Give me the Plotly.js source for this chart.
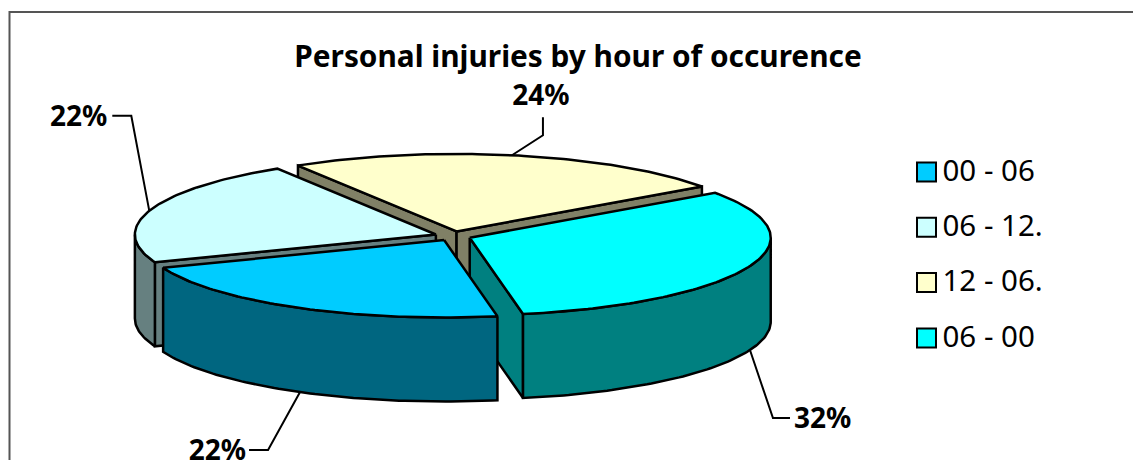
<!DOCTYPE html>
<html>
<head>
<meta charset="utf-8">
<script src="https://cdn.plot.ly/plotly-3.0.1.min.js"></script>
<style>html,body{margin:0;padding:0;background:#fff}#chart{width:1133px;height:460px}</style>
</head>
<body>
<div id="chart"></div>
<script>
const chartTitle = "Personal injuries by hour of occurence";
const categories = ["00 - 06", "06 - 12.", "12 - 06.", "06 - 00"];
const shares = [22, 22, 24, 32];
const topColors = ["#00CCFF", "#CCFFFF", "#FFFFCC", "#00FFFF"];
const sideColors = ["#006680", "#668080", "#808066", "#008080"];

// Pie geometry in the pixel-scaled axes
const G = {cx: 453, cy: 236, rx: 301, ry: 77.5, depth: 84, explode: 0.06, firstStart: -79.8};
const FONT = "Noto Sans, Tahoma, sans-serif";
const LW = 2.5;
const total = shares.reduce((a, b) => a + b, 0);

// Slices run clockwise from the first category; angles kept within one turn of the front half
let cursor = G.firstStart;
const slices = shares.map((v, i) => {
  const span = v / total * 360;
  let a0 = cursor, a1 = cursor - span;
  cursor = a1;
  if (a1 < -360) { a0 += 360; a1 += 360; }
  const mid = (a0 + a1) / 2 * Math.PI / 180;
  return {i, a0, a1, mid,
    ox: G.cx + G.explode * G.rx * Math.cos(mid),
    oy: G.cy - G.explode * G.ry * Math.sin(mid)};
});
const pt = (s, deg, drop) => [s.ox + G.rx * Math.cos(deg * Math.PI / 180),
                              s.oy - G.ry * Math.sin(deg * Math.PI / 180) + (drop || 0)];
const arc = (s, from, to, drop) => {
  const n = Math.max(2, Math.ceil(Math.abs(to - from)));
  const out = [];
  for (let k = 0; k <= n; k++) out.push(pt(s, from + (to - from) * k / n, drop));
  return out;
};
const traces = [];
const poly = (pts, fill, name) => {
  const closed = pts.concat([pts[0]]);
  traces.push({type: "scatter", mode: "lines", x: closed.map(p => p[0]), y: closed.map(p => p[1]),
    fill: "toself", fillcolor: fill, line: {color: "#000", width: LW},
    name: name || "", showlegend: false, hoverinfo: "skip"});
};
const wall = (s, deg, fill) => {
  const r = pt(s, deg);
  poly([[s.ox, s.oy], r, [r[0], r[1] + G.depth], [s.ox, s.oy + G.depth]], fill);
};

// Back to front: yellow, light, cyan, blue
[2, 1, 3, 0].forEach(idx => {
  const s = slices[idx], side = sideColors[idx];
  // only the cut faces turned toward the viewer are drawn
  if (Math.cos(s.a0 * Math.PI / 180) < 0) wall(s, s.a0, side);
  if (Math.cos(s.a1 * Math.PI / 180) > 0) wall(s, s.a1, side);
  // rim is visible only on the front half of the ellipse
  const from = Math.min(s.a0, 0), to = Math.max(s.a1, -180);
  if (from > to) {
    poly(arc(s, from, to, 0).concat(arc(s, to, from, G.depth)), side);
  }
  poly([[s.ox, s.oy]].concat(arc(s, s.a0, s.a1, 0)), topColors[idx], categories[idx]);
});

// Percent labels with elbow leaders, from each slice's mid-angle
const leaderShape = [
  {dx: -32, dy: 58, tx: -19, anchor: "left", gapX: -3, gapY: 2.5},
  {dx: -18, dy: -95, tx: -19, anchor: "left", gapX: -5, gapY: 3},
  {dx: 31, dy: -20, vy: -18, anchor: "top", gapX: -2, gapY: -5},
  {dx: 23, dy: 68, tx: 17, anchor: "right", gapX: 4, gapY: 2.5}
];
const labelX = [], labelY = [], labelText = [], labelPos = [];
slices.forEach((s, idx) => {
  const deg = s.mid * 180 / Math.PI + 0.8;
  const onFront = Math.sin(s.mid) < 0 && idx !== 1;
  const start = pt(s, deg, onFront ? G.depth : 0);
  const L = leaderShape[idx];
  const elbow = [start[0] + L.dx, start[1] + L.dy];
  const end = L.vy !== undefined ? [elbow[0], elbow[1] + L.vy] : [elbow[0] + L.tx, elbow[1]];
  traces.push({type: "scatter", mode: "lines", x: [start[0], elbow[0], end[0]], y: [start[1], elbow[1], end[1]],
    line: {color: "#000", width: 2}, showlegend: false, hoverinfo: "skip"});
  labelX.push(end[0] + L.gapX);
  labelY.push(end[1] + L.gapY);
  labelText.push(Math.round(shares[idx] / total * 100) + "%");
  labelPos.push(L.anchor === "left" ? "middle left" : L.anchor === "right" ? "middle right" : "top center");
});
traces.push({type: "scatter", mode: "text", x: labelX, y: labelY, text: labelText, textposition: labelPos,
  textfont: {family: FONT, size: 28, color: "#000", weight: 700}, showlegend: false, hoverinfo: "skip", cliponaxis: false});

// Key: large square swatches with text
const keyX = categories.map(() => 926.5);
const keyY = categories.map((c, i) => 172 + i * 55.3);
traces.push({type: "scatter", mode: "markers", x: keyX, y: keyY,
  marker: {symbol: "square", size: 19, color: topColors, line: {color: "#000", width: 2}},
  showlegend: false, hoverinfo: "skip"});
traces.push({type: "scatter", mode: "text", x: keyX.map(x => x + 16), y: keyY.map(y => y + 1.5), text: categories,
  textposition: "middle right", textfont: {family: FONT, size: 29.5, color: "#000"},
  showlegend: false, hoverinfo: "skip", cliponaxis: false});

const layout = {
  width: 1133, height: 460,
  margin: {l: 0, r: 0, t: 0, b: 0},
  paper_bgcolor: "#fff", plot_bgcolor: "#fff",
  showlegend: false,
  title: {text: "<b>" + chartTitle + "</b>", x: 578 / 1133, xanchor: "center", y: 1 - 57 / 460, yanchor: "middle",
    font: {family: FONT, size: 29.8, color: "#000"}},
  xaxis: {range: [0, 1133], visible: false, fixedrange: true},
  yaxis: {range: [460, 0], visible: false, fixedrange: true},
  shapes: [{type: "rect", xref: "x", yref: "y", x0: 9.5, y0: 12, x1: 1150, y1: 480,
    line: {color: "#555", width: 2}, layer: "below"}]
};
Plotly.newPlot("chart", traces, layout, {displayModeBar: false, staticPlot: true});
</script>
</body>
</html>
